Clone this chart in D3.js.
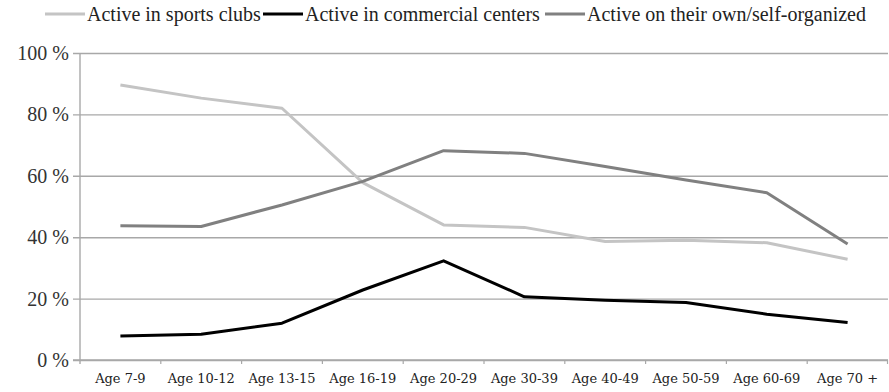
<!DOCTYPE html>
<html>
<head>
<meta charset="utf-8">
<script src="https://cdn.jsdelivr.net/npm/d3@7/dist/d3.min.js"></script>
<style>
  html, body { margin: 0; padding: 0; background: #fff; }
  svg { display: block; }
  .serif { font-family: "Liberation Serif", "Times New Roman", Tinos, serif; }
  .axis-serif { font-family: "DejaVu Serif", "Liberation Serif", serif; }
</style>
</head>
<body>
<svg id="chart" width="889" height="392"></svg>
<script>
// Age groups along the x axis
const categories = ["Age 7-9", "Age 10-12", "Age 13-15", "Age 16-19", "Age 20-29",
                    "Age 30-39", "Age 40-49", "Age 50-59", "Age 60-69", "Age 70 +"];

// Share of each age group (%) by where they are active
const sportsClubs   = [89.6, 85.3, 82.0, 57.8, 44.0, 43.2, 38.6, 39.0, 38.2, 32.8];
const commercial    = [7.8, 8.4, 12.0, 22.8, 32.3, 20.6, 19.5, 18.7, 14.9, 12.2];
const selfOrganized = [43.7, 43.5, 50.5, 58.2, 68.2, 67.3, 63.0, 58.6, 54.5, 37.8];

const seriesNames = ["Active in sports clubs", "Active in commercial centers", "Active on their own/self-organized"];
const yTicks = [0, 20, 40, 60, 80, 100];

const series = [
  { name: seriesNames[0], values: sportsClubs,   color: "#c4c4c4" },
  { name: seriesNames[1], values: commercial,    color: "#000000" },
  { name: seriesNames[2], values: selfOrganized, color: "#808080" }
];

const svg = d3.select("#chart");
const plotLeft = 80, plotRight = 888, plotTop = 53, plotBottom = 360;

const x = d3.scaleBand().domain(categories).range([plotLeft, plotRight]).padding(0);
const y = d3.scaleLinear().domain([0, 100]).range([plotBottom, plotTop]);

// Horizontal gridlines with the y axis labels
const yAxis = d3.axisLeft(y)
  .tickValues(yTicks)
  .tickSize(-(plotRight - plotLeft))
  .tickSizeOuter(0)
  .tickPadding(11)
  .tickFormat(d => d + " %");

const gy = svg.append("g")
  .attr("transform", `translate(${plotLeft},0)`)
  .call(yAxis)
  .attr("font-family", null)
  .attr("font-size", null);
gy.select(".domain").remove();
gy.selectAll(".tick line")
  .attr("x1", -7)
  .attr("stroke", "#a8a8a8")
  .attr("stroke-width", 1.4);
gy.selectAll(".tick text")
  .attr("class", "serif")
  .style("font-size", "20px")
  .attr("fill", "#333");

// Vertical axis line
svg.append("line")
  .attr("x1", plotLeft).attr("x2", plotLeft)
  .attr("y1", plotTop).attr("y2", plotBottom + 4)
  .attr("stroke", "#a8a8a8")
  .attr("stroke-width", 1.4);

// X axis: category labels centred in each band, ticks on band edges
const gx = svg.append("g")
  .attr("transform", `translate(0,${plotBottom})`);
gx.append("line")
  .attr("x1", plotLeft - 7).attr("x2", plotRight)
  .attr("stroke", "#a8a8a8").attr("stroke-width", 1.4);
gx.selectAll("line.tick")
  .data(categories.slice(1))
  .join("line")
  .attr("class", "tick")
  .attr("x1", d => x(d)).attr("x2", d => x(d))
  .attr("y1", 0).attr("y2", 4)
  .attr("stroke", "#a8a8a8").attr("stroke-width", 1.2);
gx.append("line")
  .attr("x1", plotRight - 0.5).attr("x2", plotRight - 0.5)
  .attr("y1", 0).attr("y2", 4)
  .attr("stroke", "#a8a8a8").attr("stroke-width", 1.2);
gx.selectAll("text")
  .data(categories)
  .join("text")
  .attr("class", "axis-serif")
  .attr("x", d => x(d) + x.bandwidth() / 2)
  .attr("y", 23)
  .attr("text-anchor", "middle")
  .style("font-size", "13px")
  .attr("fill", "#222")
  .text(d => d);

// Series lines
const line = d3.line()
  .x((d, i) => x(categories[i]) + x.bandwidth() / 2)
  .y(d => y(d));

svg.append("g")
  .selectAll("path")
  .data(series)
  .join("path")
  .attr("d", d => line(d.values))
  .attr("fill", "none")
  .attr("stroke", d => d.color)
  .attr("stroke-width", 3)
  .attr("stroke-linejoin", "round");

// Legend across the top
const legendX = [45, 263, 545];
const legend = svg.append("g");
series.forEach((s, i) => {
  const g = legend.append("g").attr("transform", `translate(${legendX[i]},14)`);
  g.append("line")
    .attr("x1", 0).attr("x2", 40)
    .attr("stroke", s.color)
    .attr("stroke-width", 3);
  g.append("text")
    .attr("class", "serif")
    .attr("x", 42)
    .attr("y", 7)
    .style("font-size", "20px")
    .attr("fill", "#222")
    .text(s.name);
});
</script>
</body>
</html>
